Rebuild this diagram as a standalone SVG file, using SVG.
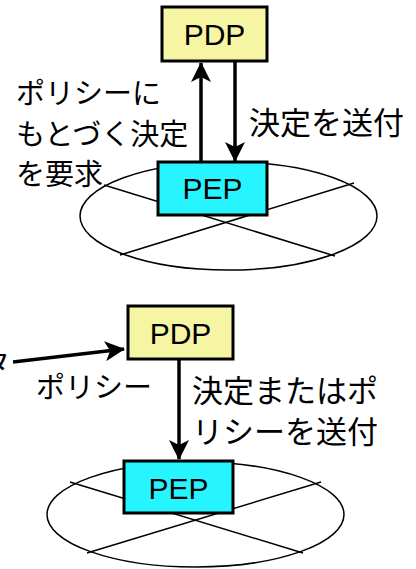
<svg xmlns="http://www.w3.org/2000/svg" width="416" height="569" viewBox="0 0 416 569">
<style>
.box{stroke:#000;stroke-width:3}
.pdp{fill:#F5F5A3}
.pep{fill:#26F4FF}
.lbl{font-family:"Liberation Sans",Arial,sans-serif;font-size:30px;text-anchor:middle;fill:#000}
.jp{font-family:"Noto Sans CJK JP","Noto Sans CJK SC",sans-serif;fill:#000}
.ell{fill:none;stroke:#000;stroke-width:1.5}
.ln{stroke:#000;stroke-width:1.5}
.arr{stroke:#000;stroke-width:3.5;fill:none}
</style>
<defs>
<marker id="ah" viewBox="0 0 20 20" refX="19" refY="10" markerWidth="20" markerHeight="20" markerUnits="userSpaceOnUse" orient="auto">
<path d="M0,0 L20,10 L0,20 L5,10 Z" fill="#000"/>
</marker>
</defs>
<g id="network-top">
<ellipse class="ell" cx="228.5" cy="216" rx="148.5" ry="54"/>
<line class="ln" x1="104" y1="185" x2="335" y2="256"/>
<line class="ln" x1="354" y1="183" x2="120" y2="255"/>
</g>
<g id="network-bottom">
<ellipse class="ell" cx="195.5" cy="514.5" rx="148.5" ry="52.5"/>
<line class="ln" x1="70" y1="482" x2="303" y2="553"/>
<line class="ln" x1="321" y1="482" x2="87" y2="553"/>
</g>
<g id="connectors">
<line class="arr" x1="201" y1="162" x2="201" y2="63" marker-end="url(#ah)"/>
<line class="arr" x1="235" y1="61" x2="235" y2="161" marker-end="url(#ah)"/>
<line class="arr" x1="179" y1="359" x2="179" y2="459" marker-end="url(#ah)"/>
<line class="arr" x1="13" y1="362" x2="124" y2="349" marker-end="url(#ah)"/>
</g>
<g id="pdp-top">
<rect class="box pdp" x="162" y="7" width="105" height="54"/>
<text class="lbl" x="214.5" y="45">PDP</text>
</g>
<g id="pep-top">
<rect class="box pep" x="158" y="162" width="109" height="53"/>
<text class="lbl" x="212.5" y="199">PEP</text>
</g>
<g id="pdp-bottom">
<rect class="box pdp" x="128" y="306" width="105" height="53"/>
<text class="lbl" x="180.5" y="344">PDP</text>
</g>
<g id="pep-bottom">
<rect class="box pep" x="124" y="461" width="109" height="52"/>
<text class="lbl" x="178.5" y="499">PEP</text>
</g>
<g id="labels">
<text class="jp" font-size="29" x="16" y="104">ポリシーに</text>
<text class="jp" font-size="29" x="16" y="145">もとづく決定</text>
<text class="jp" font-size="29" x="16" y="185">を要求</text>
<text class="jp" font-size="31" x="249" y="134">決定を送付</text>
<text class="jp" font-size="29" x="-19" y="374">タ</text>
<text class="jp" font-size="29" x="36" y="398">ポリシー</text>
<text class="jp" font-size="31" x="192" y="402">決定またはポ</text>
<text class="jp" font-size="31" x="192" y="443">リシーを送付</text>
</g>
</svg>
